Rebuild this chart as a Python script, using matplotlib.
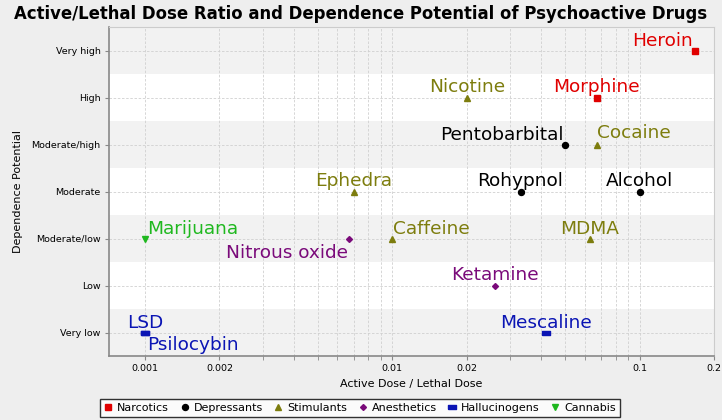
import numpy as np
import matplotlib
matplotlib.use("Agg")
import matplotlib.pyplot as plt
from matplotlib.ticker import FixedLocator, NullFormatter

# dependence levels, bottom to top
levels = ["Very low", "Low", "Moderate/low", "Moderate",
          "Moderate/high", "High", "Very high"]

groups = ["Narcotics", "Depressants", "Stimulants",
          "Anesthetics", "Hallucinogens", "Cannabis"]

drugs = ["Heroin", "Morphine", "Pentobarbital", "Rohypnol", "Alcohol",
         "Nicotine", "Cocaine", "Ephedra", "Caffeine", "MDMA",
         "Nitrous oxide", "Ketamine", "LSD", "Psilocybin", "Mescaline",
         "Marijuana"]
ratio = [0.167, 0.067, 0.05, 0.033, 0.1,
         0.02, 0.067, 0.007, 0.01, 0.063,
         0.0067, 0.026, 0.001, 0.001, 0.042,
         0.001]
dependence = ["Very high", "High", "Moderate/high", "Moderate", "Moderate",
              "High", "Moderate/high", "Moderate", "Moderate/low", "Moderate/low",
              "Moderate/low", "Low", "Very low", "Very low", "Very low",
              "Moderate/low"]
drug_group = ["Narcotics", "Narcotics", "Depressants", "Depressants", "Depressants",
              "Stimulants", "Stimulants", "Stimulants", "Stimulants", "Stimulants",
              "Anesthetics", "Anesthetics", "Hallucinogens", "Hallucinogens",
              "Hallucinogens", "Cannabis"]

colors = {"Narcotics": "#e00000", "Depressants": "#000000",
          "Stimulants": "#7d7d0e", "Anesthetics": "#7a0a7a",
          "Hallucinogens": "#0a14b4", "Cannabis": "#1fb81f"}
flat = [(-1, -0.45), (1, -0.45), (1, 0.45), (-1, 0.45), (-1, -0.45)]
markers = {"Narcotics": ("s", 4.3), "Depressants": ("o", 4.3),
           "Stimulants": ("^", 4.5), "Anesthetics": ("D", 3.0),
           "Hallucinogens": (flat, 5.5), "Cannabis": ("v", 4.5)}

# label placement: (ha, dx px, dy px)
place = {"Heroin": ("right", -2, 5), "Pentobarbital": ("right", -2, 5),
         "Cocaine": ("left", 0, 6), "Caffeine": ("left", 1, 5),
         "Marijuana": ("left", 2, 5), "Nitrous oxide": ("right", -1, -19),
         "Psilocybin": ("left", 2, -17)}

fig = plt.figure(figsize=(7.22, 4.20), dpi=100, facecolor="#eeeeee")
ax = fig.add_axes([109 / 722, 64 / 420, 605 / 722, 329 / 420])
ax.set_facecolor("white")

ax.set_xscale("log")
ax.set_xlim(0.000715, 0.2)
ax.set_ylim(0.5, 7.5)

for i in range(len(levels)):
    if i % 2 == 0:
        ax.axhspan(i + 0.5, i + 1.5, color="#f2f2f2", zorder=0, lw=0)

major = [0.001, 0.002, 0.01, 0.02, 0.1, 0.2]
minor = [m * d for d in (0.001, 0.01, 0.1) for m in range(1, 10)
         if m * d < 0.2 and m * d not in major]
ax.xaxis.set_major_locator(FixedLocator(major))
ax.xaxis.set_minor_locator(FixedLocator(minor))
ax.xaxis.set_minor_formatter(NullFormatter())
ax.set_xticklabels(["0.001", "0.002", "0.01", "0.02", "0.1", "0.2"])
ax.set_yticks(range(1, len(levels) + 1))
ax.set_yticklabels(levels)
ax.grid(True, which="both", color="#d0d0d0", linestyle=(0, (3, 2)), lw=0.6, zorder=1)
ax.tick_params(which="both", length=3, color="#888888", labelsize=6.8, pad=3)

for side in ("left", "bottom"):
    ax.spines[side].set_color("#888888")
    ax.spines[side].set_linewidth(1.2)
for side in ("top", "right"):
    ax.spines[side].set_color("#cccccc")

for g in groups:
    idx = [i for i, d in enumerate(drug_group) if d == g]
    xs = [ratio[i] for i in idx]
    ys = [levels.index(dependence[i]) + 1 for i in idx]
    mk, ms = markers[g]
    ax.plot(xs, ys, linestyle="none", marker=mk, ms=ms, color=colors[g],
            mec=colors[g], label=g, zorder=3)

for i, name in enumerate(drugs):
    ha, dx, dy = place.get(name, ("center", 0, 5))
    y = levels.index(dependence[i]) + 1
    ax.annotate(name, (ratio[i], y), xytext=(dx, dy), textcoords="offset pixels",
                ha=ha, va="baseline", fontsize=13.3, color=colors[drug_group[i]],
                zorder=4)

ax.set_xlabel("Active Dose / Lethal Dose", fontsize=8)
ax.set_ylabel("Dependence Potential", fontsize=8, labelpad=6)
fig.suptitle("Active/Lethal Dose Ratio and Dependence Potential of Psychoactive Drugs",
             x=0.5, y=0.988, fontsize=11.9, fontweight="bold")

leg = fig.legend(loc="center", bbox_to_anchor=(360 / 722, 1 - 408 / 420), ncol=6,
                 fontsize=8, frameon=True, fancybox=False, edgecolor="black",
                 handlelength=0.8, handletextpad=0.4, columnspacing=1.0,
                 borderpad=0.35, markerscale=1.0)
leg.get_frame().set_linewidth(1.0)

fig.savefig("out.png", dpi=100, facecolor=fig.get_facecolor())
